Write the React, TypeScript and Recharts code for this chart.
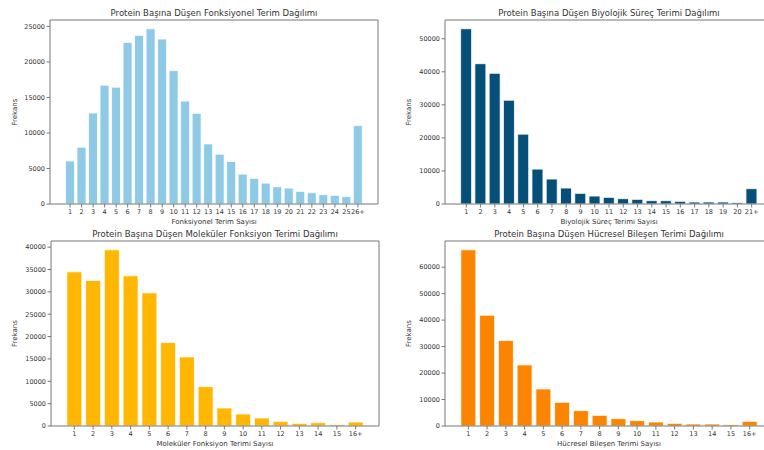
import React from 'react'
import { BarChart, Bar, XAxis, YAxis, CartesianGrid } from 'recharts'

// term-count buckets and protein frequencies for each GO aspect
const fonkCats = ['1', '2', '3', '4', '5', '6', '7', '8', '9', '10', '11', '12', '13', '14', '15', '16', '17', '18', '19', '20', '21', '22', '23', '24', '25', '26+']
const fonkValues = [6050, 8000, 12800, 16730, 16450, 22750, 23740, 24670, 23220, 18780, 14490, 12760, 8460, 7010, 5980, 4210, 3600, 2940, 2430, 2240, 1780, 1590, 1310, 1220, 1030, 11030]
const fonkTicks = [0, 5000, 10000, 15000, 20000, 25000]

const bioCats = ['1', '2', '3', '4', '5', '6', '7', '8', '9', '10', '11', '12', '13', '14', '15', '16', '17', '18', '19', '20', '21+']
const bioValues = [53020, 42450, 39540, 31390, 21130, 10560, 7550, 4830, 3220, 2410, 2010, 1610, 1410, 1010, 1000, 800, 600, 600, 600, 400, 4630]
const bioTicks = [0, 10000, 20000, 30000, 40000, 50000]

const molCats = ['1', '2', '3', '4', '5', '6', '7', '8', '9', '10', '11', '12', '13', '14', '15', '16+']
const molValues = [34480, 32540, 39400, 33580, 29780, 18660, 15450, 8810, 4030, 2690, 1790, 1050, 600, 750, 300, 900]
const molTicks = [0, 5000, 10000, 15000, 20000, 25000, 30000, 35000, 40000]

const hucCats = ['1', '2', '3', '4', '5', '6', '7', '8', '9', '10', '11', '12', '13', '14', '15', '16+']
const hucValues = [66550, 41850, 32270, 23070, 13990, 8950, 5800, 4030, 2770, 2020, 1510, 1010, 760, 760, 500, 1770]
const hucTicks = [0, 10000, 20000, 30000, 40000, 50000, 60000]

const FONT = '"DejaVu Sans", sans-serif'
const PLOT_W = 328
const SPINE = '#777'
const TEXT = '#333'

type PanelProps = {
    left: number
    top: number
    axisW: number
    plotTop: number
    plotH: number
    title: string
    titleY: number
    xLabel: string
    yLabelX: number
    cats: string[]
    values: number[]
    yTicks: number[]
    color: string
}

const Panel = ({ left, top, axisW, plotTop, plotH, title, titleY, xLabel, yLabelX, cats, values, yTicks, color }: PanelProps) => {
    const data = cats.map((c, i) => ({ cat: c, value: values[i] }))
    const n = cats.length
    // matplotlib style x margins: 5% of the bar extent on both sides
    const unit = PLOT_W / (1.1 * (n - 0.1))
    const pad = (0.05 * (n - 0.1) - 0.05) * unit
    const yMax = Math.max(...values) * 1.05
    const xAxisH = 26

    return (
        <>
            <div style={{
                position: 'absolute',
                left: left + axisW,
                top: top + titleY - 6,
                width: PLOT_W,
                height: 12,
                lineHeight: '12px',
                fontSize: 8.5,
                fontFamily: FONT,
                color: '#333',
                textAlign: 'center',
                whiteSpace: 'nowrap'
            }}>{title}</div>
            <div style={{ position: 'absolute', left, top }}>
                <BarChart
                    width={axisW + PLOT_W + 4}
                    height={plotTop + plotH + xAxisH}
                    data={data}
                    margin={{ top: plotTop, right: 4, bottom: 0, left: 0 }}
                    barCategoryGap="10%"
                >
                    {/* top and right spines close the frame */}
                    <CartesianGrid
                        stroke={SPINE}
                        strokeWidth={1}
                        horizontalCoordinatesGenerator={({ offset }: any) => [offset.top]}
                        verticalCoordinatesGenerator={({ offset }: any) => [offset.left + offset.width]}
                    />
                    <XAxis
                        dataKey="cat"
                        interval={0}
                        height={xAxisH}
                        padding={{ left: pad, right: pad }}
                        axisLine={{ stroke: SPINE }}
                        tickLine={{ stroke: SPINE }}
                        tickSize={3.5}
                        tickMargin={1.5}
                        tick={{ fill: TEXT, fontSize: 6.5, fontFamily: FONT }}
                        label={{ value: xLabel, position: 'insideBottom', offset: 6.5, fill: TEXT, fontSize: 7, fontFamily: FONT }}
                    />
                    <YAxis
                        type="number"
                        width={axisW}
                        domain={[0, yMax]}
                        ticks={yTicks}
                        interval={0}
                        axisLine={{ stroke: SPINE }}
                        tickLine={{ stroke: SPINE }}
                        tickSize={3.5}
                        tickMargin={1.5}
                        tick={{ fill: TEXT, fontSize: 6.5, fontFamily: FONT }}
                        label={{ value: 'Frekans', angle: -90, position: 'insideLeft', offset: yLabelX, fill: TEXT, fontSize: 7, fontFamily: FONT, style: { textAnchor: 'middle' } }}
                    />
                    <Bar dataKey="value" fill={color} stroke="#fff" strokeWidth={0.8} isAnimationActive={false} />
                </BarChart>
            </div>
        </>
    )
}

const App = () => {
    return (
        <div style={{ position: 'fixed', left: 0, top: 0, width: 764, height: 450, overflow: 'hidden', background: '#fff' }}>
            <Panel
                left={0} top={0} axisW={50} plotTop={20} plotH={184}
                title="Protein Başına Düşen Fonksiyonel Terim Dağılımı" titleY={12.7}
                xLabel="Fonksiyonel Terim Sayısı" yLabelX={15}
                cats={fonkCats} values={fonkValues} yTicks={fonkTicks} color="#8ecae6"
            />
            <Panel
                left={382} top={0} axisW={63} plotTop={20} plotH={184}
                title="Protein Başına Düşen Biyolojik Süreç Terimi Dağılımı" titleY={12.7}
                xLabel="Biyolojik Süreç Terimi Sayısı" yLabelX={27}
                cats={bioCats} values={bioValues} yTicks={bioTicks} color="#064f78"
            />
            <Panel
                left={0} top={225} axisW={51} plotTop={16} plotH={185}
                title="Protein Başına Düşen Moleküler Fonksiyon Terimi Dağılımı" titleY={9}
                xLabel="Moleküler Fonksiyon Terimi Sayısı" yLabelX={15}
                cats={molCats} values={molValues} yTicks={molTicks} color="#ffb703"
            />
            <Panel
                left={382} top={225} axisW={63} plotTop={16} plotH={185}
                title="Protein Başına Düşen Hücresel Bileşen Terimi Dağılımı" titleY={9.3}
                xLabel="Hücresel Bileşen Terimi Sayısı" yLabelX={27}
                cats={hucCats} values={hucValues} yTicks={hucTicks} color="#fb8500"
            />
        </div>
    )
}

export default App
